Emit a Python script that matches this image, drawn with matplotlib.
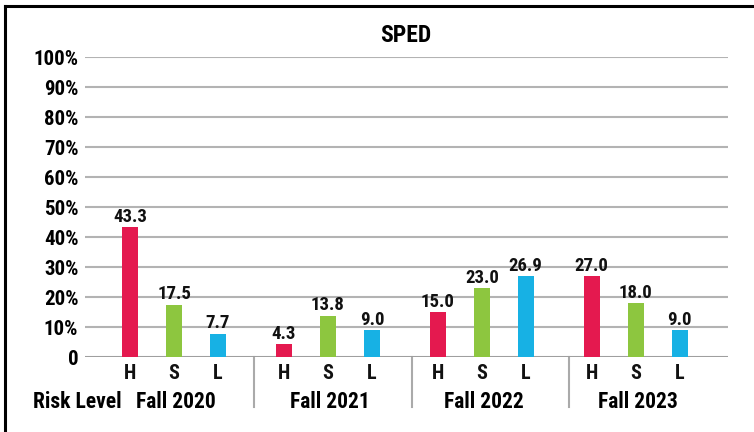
import matplotlib
matplotlib.use("Agg")
import matplotlib.pyplot as plt
from matplotlib.lines import Line2D
from matplotlib.font_manager import fontManager

# data
years = ["Fall 2020", "Fall 2021", "Fall 2022", "Fall 2023"]
levels = ["H", "S", "L"]
high = [43.3, 4.3, 15.0, 27.0]
some = [17.5, 13.8, 23.0, 18.0]
low = [7.7, 9.0, 26.9, 9.0]
y_ticks = [0, 10, 20, 30, 40, 50, 60, 70, 80, 90, 100]
y_labels = ["0"] + [f"{v}%" for v in y_ticks[1:]]

colors = ["#e4194f", "#8dc63f", "#17b1e4"]

# pick a narrow bold face if one is around
names = {f.name for f in fontManager.ttflist}
fam = "DejaVu Sans"
for cand in ["Roboto Condensed", "Archivo Narrow", "Barlow Semi Condensed",
             "IBM Plex Sans Condensed", "Liberation Sans Narrow"]:
    if cand in names:
        fam = cand
        break
plt.rcParams["font.family"] = [fam, "DejaVu Sans"]
plt.rcParams["font.weight"] = "bold"

fig = plt.figure(figsize=(7.54, 4.32), dpi=100)
ax = fig.add_axes([0.113, 0.1736, 0.852, 0.6944])

group_gap = 3.5
bar_w = 0.36
series = [high, some, low]
for gi, year in enumerate(years):
    center = gi * group_gap
    for si, vals in enumerate(series):
        x = center + (si - 1)
        v = vals[gi]
        ax.bar(x, v, width=bar_w, color=colors[si], zorder=3)
        ax.text(x, v + 0.5, f"{v:.1f}", ha="center", va="bottom",
                fontsize=13.5, fontweight="bold", color="#111111", zorder=4)
        ax.text(x, -2.2, levels[si], ha="center", va="top",
                fontsize=14.5, fontweight="bold", color="#111111")
    ax.text(center + 0.05, -0.113, year, transform=ax.get_xaxis_transform(),
            ha="center", va="top", fontsize=15.5, fontweight="bold")

# separators between groups
for gi in range(1, len(years)):
    xs = gi * group_gap - group_gap / 2 + 0.08 * gi
    ax.plot([xs, xs], [0, -0.167], transform=ax.get_xaxis_transform(),
            color="#aaaaaa", lw=1.5, clip_on=False)

ax.text(-0.081, -0.113, "Risk Level", transform=ax.transAxes, ha="left",
        va="top", fontsize=15.5, fontweight="bold")

ax.set_xlim(-2.02, 12.59)
ax.set_ylim(0, 100)
ax.set_yticks(y_ticks)
ax.set_yticklabels(y_labels, fontsize=15, fontweight="bold")
ax.set_xticks([])
ax.tick_params(axis="y", length=0, pad=5)
ax.yaxis.grid(True, color="#b3b3b3", lw=1.5, zorder=0)
ax.axhline(0, color="#999999", lw=1.8, zorder=2)
for s in ax.spines.values():
    s.set_visible(False)

fig.text(406 / 754, 1 - 36 / 432, "SPED", ha="center", va="center",
         fontsize=17, fontweight="bold")

# frame: top and left edges only
fig.add_artist(Line2D([5 / 754, 1.0], [1 - 6 / 432] * 2, transform=fig.transFigure,
                      color="black", lw=2.2))
fig.add_artist(Line2D([5 / 754] * 2, [0.0, 1 - 6 / 432], transform=fig.transFigure,
                      color="black", lw=2.2))

fig.savefig("out.png", dpi=100)
